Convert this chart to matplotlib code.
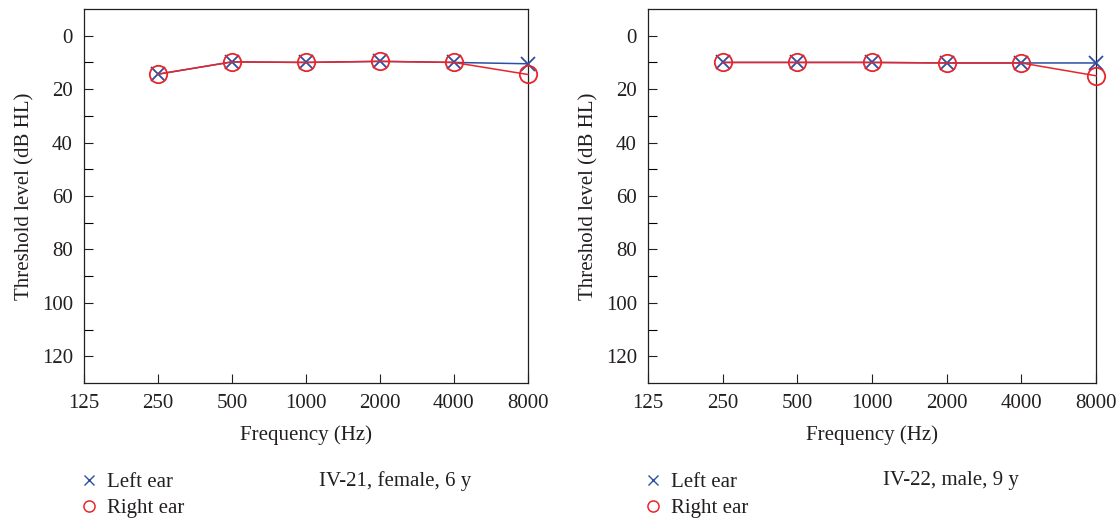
import matplotlib
matplotlib.use("Agg")
import matplotlib.pyplot as plt
from matplotlib.lines import Line2D

plt.rcParams['font.family'] = ['Liberation Serif', 'DejaVu Serif']

freqs = [250, 500, 1000, 2000, 4000, 8000]
tick_freqs = [125, 250, 500, 1000, 2000, 4000, 8000]
tick_labels = ["125", "250", "500", "1000", "2000", "4000", "8000"]

left_ear_a = [14.4, 9.8, 10, 9.6, 10, 10.5]
right_ear_a = [14.4, 9.8, 10, 9.6, 10, 14.5]
left_ear_b = [10, 10, 10, 10.2, 10.2, 10.2]
right_ear_b = [10, 10, 10, 10.2, 10.2, 15]

captions = ["IV-21, female, 6 y", "IV-22, male, 9 y"]

BLUE = "#2b4fa3"
RED = "#e8252b"
TXT = '#231f20'

W, H = 1117, 519
fig = plt.figure(figsize=(W / 100, H / 100), dpi=100)
positions = [[84 / W, 1 - 383 / H, (527.7 - 84) / W, 374 / H],
             [648 / W, 1 - 383 / H, (1096 - 648) / W, 374 / H]]
data = [(left_ear_a, right_ear_a), (left_ear_b, right_ear_b)]
legend_x = [70.5 / W, 634.5 / W]
caption_x = [319 / W, 883 / W]

for i, (pos, (le, re)) in enumerate(zip(positions, data)):
    ax = fig.add_axes(pos)
    ax.set_xscale('log', base=2)
    ax.plot(freqs, le, color=BLUE, lw=1.1, marker='x', ms=9.5, mew=1.3, zorder=3, clip_on=False)
    ax.plot(freqs, re, color=RED, lw=1.1, marker='o', ms=12.5, mfc='none', mew=1.3, zorder=4, clip_on=False)
    ax.set_xlim(125, 8000)
    ax.set_ylim(130, -10)
    ax.set_xticks(tick_freqs)
    ax.set_xticklabels(tick_labels)
    ax.minorticks_off()
    ax.set_yticks([0, 20, 40, 60, 80, 100, 120])
    ax.set_yticks([10, 30, 50, 70, 90, 110], minor=True)
    ax.tick_params(axis='both', direction='in', labelsize=15, length=6.5, width=0.8, colors=TXT)
    ax.tick_params(axis='y', which='minor', direction='in', length=6.5, width=0.8)
    ax.tick_params(axis='x', pad=8)
    ax.tick_params(axis='y', pad=8)
    for s in ax.spines.values():
        s.set_linewidth(0.9)
        s.set_color(TXT)
    ax.set_xlabel("Frequency (Hz)", fontsize=15, color=TXT, labelpad=9)
    ax.set_ylabel("Threshold level (dB HL)", fontsize=15, color=TXT, labelpad=5)

    handles = [Line2D([], [], color=BLUE, marker='x', ls='none', ms=7.5, mew=1.0),
               Line2D([], [], color=RED, marker='o', ls='none', ms=8, mfc='none', mew=1.1)]
    leg = fig.legend(handles, ["Left ear", "Right ear"], loc='upper left',
                     bbox_to_anchor=(legend_x[i], 1 - 464 / H), frameon=False,
                     fontsize=15, handlelength=1.0, handletextpad=0.35,
                     labelspacing=0.32, borderaxespad=0)
    for t in leg.get_texts():
        t.set_color(TXT)
    fig.text(caption_x[i], 1 - 481 / H, captions[i], fontsize=15, color=TXT,
             va='center', ha='left')

fig.savefig("out.png", dpi=100)
